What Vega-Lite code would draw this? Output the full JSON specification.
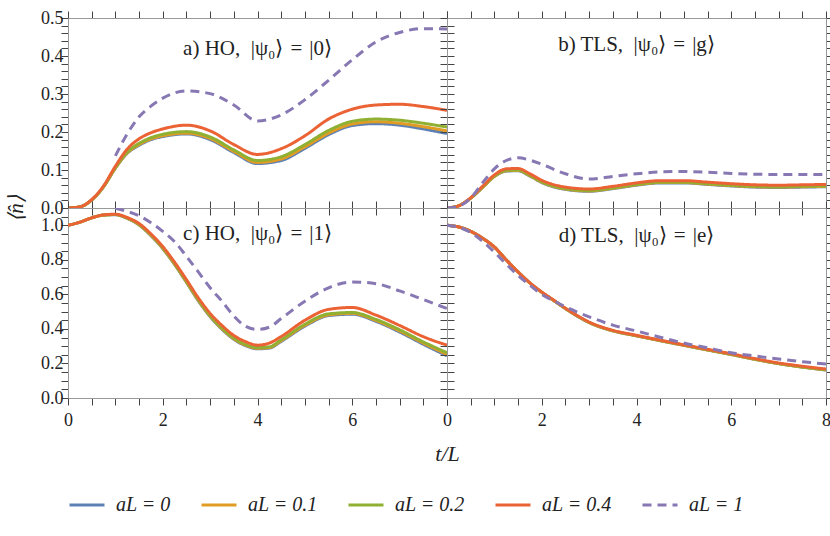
{
"$schema":"https://vega.github.io/schema/vega-lite/v6.json",
"background":"white",
"padding":{"left":4,"top":8,"right":2,"bottom":5},
"bounds":"flush",
"spacing":0,
"columns":2,
"config":{
 "font":"Liberation Serif",
 "view":{"stroke":"#999","strokeWidth":1},
 "axis":{"labelFont":"Liberation Serif","labelFontSize":18,"labelColor":"#222","ticks":true,"tickColor":"#444","tickWidth":1,"tickSize":7,"domainColor":"#999","grid":false,"labelFlush":false,"labelOverlap":false,"titleFont":"Liberation Serif","titleColor":"#222","titleFontWeight":"normal"},
 "legend":{"orient":"bottom","direction":"horizontal","title":null,"symbolType":"stroke","symbolStrokeWidth":3,"symbolSize":1225,"labelFont":"Liberation Serif","labelFontSize":20,"labelFontStyle":"italic","labelColor":"#222","columnPadding":24,"labelOffset":10,"offset":21},
 "text":{"font":"Liberation Serif"}
},
"datasets":{
"labels":[
{"p":"a","t":4,"v":0.418,"label":"a) HO,\u2002|ψ₀⟩\u2004=\u2004|0⟩"},
{"p":"b","t":4,"v":0.43,"label":"b) TLS,\u2002|ψ₀⟩\u2004=\u2004|g⟩"},
{"p":"c","t":4,"v":0.95,"label":"c) HO,\u2002|ψ₀⟩\u2004=\u2004|1⟩"},
{"p":"d","t":4,"v":0.94,"label":"d) TLS,\u2002|ψ₀⟩\u2004=\u2004|e⟩"}
],
"curves":[
{"p":"a","s":"aL = 0","t":0,"v":0},{"p":"a","s":"aL = 0","t":0.25,"v":0.003},{"p":"a","s":"aL = 0","t":0.5,"v":0.021},{"p":"a","s":"aL = 0","t":0.75,"v":0.056},{"p":"a","s":"aL = 0","t":1,"v":0.105},{"p":"a","s":"aL = 0","t":1.25,"v":0.144},{"p":"a","s":"aL = 0","t":1.5,"v":0.165},{"p":"a","s":"aL = 0","t":1.75,"v":0.18},{"p":"a","s":"aL = 0","t":2,"v":0.188},{"p":"a","s":"aL = 0","t":2.5,"v":0.195},{"p":"a","s":"aL = 0","t":3,"v":0.18},{"p":"a","s":"aL = 0","t":3.5,"v":0.146},{"p":"a","s":"aL = 0","t":4,"v":0.117},{"p":"a","s":"aL = 0","t":4.5,"v":0.125},{"p":"a","s":"aL = 0","t":5,"v":0.157},{"p":"a","s":"aL = 0","t":5.5,"v":0.193},{"p":"a","s":"aL = 0","t":6,"v":0.217},{"p":"a","s":"aL = 0","t":6.5,"v":0.222},{"p":"a","s":"aL = 0","t":7,"v":0.218},{"p":"a","s":"aL = 0","t":7.5,"v":0.208},{"p":"a","s":"aL = 0","t":8,"v":0.196},
{"p":"a","s":"aL = 0.1","t":0,"v":0},{"p":"a","s":"aL = 0.1","t":0.25,"v":0.003},{"p":"a","s":"aL = 0.1","t":0.5,"v":0.021},{"p":"a","s":"aL = 0.1","t":0.75,"v":0.056},{"p":"a","s":"aL = 0.1","t":1,"v":0.105},{"p":"a","s":"aL = 0.1","t":1.25,"v":0.145},{"p":"a","s":"aL = 0.1","t":1.5,"v":0.167},{"p":"a","s":"aL = 0.1","t":1.75,"v":0.182},{"p":"a","s":"aL = 0.1","t":2,"v":0.19},{"p":"a","s":"aL = 0.1","t":2.5,"v":0.197},{"p":"a","s":"aL = 0.1","t":3,"v":0.183},{"p":"a","s":"aL = 0.1","t":3.5,"v":0.149},{"p":"a","s":"aL = 0.1","t":4,"v":0.12},{"p":"a","s":"aL = 0.1","t":4.5,"v":0.129},{"p":"a","s":"aL = 0.1","t":5,"v":0.161},{"p":"a","s":"aL = 0.1","t":5.5,"v":0.197},{"p":"a","s":"aL = 0.1","t":6,"v":0.221},{"p":"a","s":"aL = 0.1","t":6.5,"v":0.227},{"p":"a","s":"aL = 0.1","t":7,"v":0.223},{"p":"a","s":"aL = 0.1","t":7.5,"v":0.214},{"p":"a","s":"aL = 0.1","t":8,"v":0.203},
{"p":"a","s":"aL = 0.2","t":0,"v":0},{"p":"a","s":"aL = 0.2","t":0.25,"v":0.003},{"p":"a","s":"aL = 0.2","t":0.5,"v":0.021},{"p":"a","s":"aL = 0.2","t":0.75,"v":0.056},{"p":"a","s":"aL = 0.2","t":1,"v":0.106},{"p":"a","s":"aL = 0.2","t":1.25,"v":0.147},{"p":"a","s":"aL = 0.2","t":1.5,"v":0.17},{"p":"a","s":"aL = 0.2","t":1.75,"v":0.185},{"p":"a","s":"aL = 0.2","t":2,"v":0.194},{"p":"a","s":"aL = 0.2","t":2.5,"v":0.201},{"p":"a","s":"aL = 0.2","t":3,"v":0.187},{"p":"a","s":"aL = 0.2","t":3.5,"v":0.153},{"p":"a","s":"aL = 0.2","t":4,"v":0.125},{"p":"a","s":"aL = 0.2","t":4.5,"v":0.135},{"p":"a","s":"aL = 0.2","t":5,"v":0.167},{"p":"a","s":"aL = 0.2","t":5.5,"v":0.204},{"p":"a","s":"aL = 0.2","t":6,"v":0.228},{"p":"a","s":"aL = 0.2","t":6.5,"v":0.234},{"p":"a","s":"aL = 0.2","t":7,"v":0.231},{"p":"a","s":"aL = 0.2","t":7.5,"v":0.223},{"p":"a","s":"aL = 0.2","t":8,"v":0.213},
{"p":"a","s":"aL = 0.4","t":0,"v":0},{"p":"a","s":"aL = 0.4","t":0.25,"v":0.003},{"p":"a","s":"aL = 0.4","t":0.5,"v":0.022},{"p":"a","s":"aL = 0.4","t":0.75,"v":0.058},{"p":"a","s":"aL = 0.4","t":1,"v":0.11},{"p":"a","s":"aL = 0.4","t":1.25,"v":0.155},{"p":"a","s":"aL = 0.4","t":1.5,"v":0.182},{"p":"a","s":"aL = 0.4","t":1.75,"v":0.198},{"p":"a","s":"aL = 0.4","t":2,"v":0.208},{"p":"a","s":"aL = 0.4","t":2.5,"v":0.218},{"p":"a","s":"aL = 0.4","t":3,"v":0.203},{"p":"a","s":"aL = 0.4","t":3.5,"v":0.167},{"p":"a","s":"aL = 0.4","t":4,"v":0.141},{"p":"a","s":"aL = 0.4","t":4.5,"v":0.156},{"p":"a","s":"aL = 0.4","t":5,"v":0.19},{"p":"a","s":"aL = 0.4","t":5.5,"v":0.234},{"p":"a","s":"aL = 0.4","t":6,"v":0.26},{"p":"a","s":"aL = 0.4","t":6.5,"v":0.271},{"p":"a","s":"aL = 0.4","t":7,"v":0.273},{"p":"a","s":"aL = 0.4","t":7.5,"v":0.267},{"p":"a","s":"aL = 0.4","t":8,"v":0.257},
{"p":"a","s":"aL = 1","t":1,"v":0.137},{"p":"a","s":"aL = 1","t":1.25,"v":0.195},{"p":"a","s":"aL = 1","t":1.5,"v":0.24},{"p":"a","s":"aL = 1","t":1.75,"v":0.268},{"p":"a","s":"aL = 1","t":2,"v":0.289},{"p":"a","s":"aL = 1","t":2.5,"v":0.308},{"p":"a","s":"aL = 1","t":3,"v":0.301},{"p":"a","s":"aL = 1","t":3.5,"v":0.271},{"p":"a","s":"aL = 1","t":4,"v":0.229},{"p":"a","s":"aL = 1","t":4.5,"v":0.245},{"p":"a","s":"aL = 1","t":5,"v":0.285},{"p":"a","s":"aL = 1","t":5.5,"v":0.336},{"p":"a","s":"aL = 1","t":6,"v":0.39},{"p":"a","s":"aL = 1","t":6.5,"v":0.437},{"p":"a","s":"aL = 1","t":7,"v":0.462},{"p":"a","s":"aL = 1","t":7.5,"v":0.472},{"p":"a","s":"aL = 1","t":8,"v":0.471},

{"p":"b","s":"aL = 0","t":0,"v":0},{"p":"b","s":"aL = 0","t":0.25,"v":0.006},{"p":"b","s":"aL = 0","t":0.5,"v":0.026},{"p":"b","s":"aL = 0","t":0.75,"v":0.054},{"p":"b","s":"aL = 0","t":1,"v":0.083},{"p":"b","s":"aL = 0","t":1.25,"v":0.097},{"p":"b","s":"aL = 0","t":1.5,"v":0.098},{"p":"b","s":"aL = 0","t":1.75,"v":0.084},{"p":"b","s":"aL = 0","t":2,"v":0.067},{"p":"b","s":"aL = 0","t":2.5,"v":0.049},{"p":"b","s":"aL = 0","t":3,"v":0.044},{"p":"b","s":"aL = 0","t":3.5,"v":0.051},{"p":"b","s":"aL = 0","t":4,"v":0.06},{"p":"b","s":"aL = 0","t":4.5,"v":0.066},{"p":"b","s":"aL = 0","t":5,"v":0.066},{"p":"b","s":"aL = 0","t":5.5,"v":0.062},{"p":"b","s":"aL = 0","t":6,"v":0.058},{"p":"b","s":"aL = 0","t":6.5,"v":0.055},{"p":"b","s":"aL = 0","t":7,"v":0.054},{"p":"b","s":"aL = 0","t":7.5,"v":0.055},{"p":"b","s":"aL = 0","t":8,"v":0.056},
{"p":"b","s":"aL = 0.1","t":0,"v":0},{"p":"b","s":"aL = 0.1","t":0.25,"v":0.006},{"p":"b","s":"aL = 0.1","t":0.5,"v":0.026},{"p":"b","s":"aL = 0.1","t":0.75,"v":0.054},{"p":"b","s":"aL = 0.1","t":1,"v":0.083},{"p":"b","s":"aL = 0.1","t":1.25,"v":0.098},{"p":"b","s":"aL = 0.1","t":1.5,"v":0.099},{"p":"b","s":"aL = 0.1","t":1.75,"v":0.085},{"p":"b","s":"aL = 0.1","t":2,"v":0.068},{"p":"b","s":"aL = 0.1","t":2.5,"v":0.05},{"p":"b","s":"aL = 0.1","t":3,"v":0.045},{"p":"b","s":"aL = 0.1","t":3.5,"v":0.052},{"p":"b","s":"aL = 0.1","t":4,"v":0.061},{"p":"b","s":"aL = 0.1","t":4.5,"v":0.067},{"p":"b","s":"aL = 0.1","t":5,"v":0.067},{"p":"b","s":"aL = 0.1","t":5.5,"v":0.063},{"p":"b","s":"aL = 0.1","t":6,"v":0.059},{"p":"b","s":"aL = 0.1","t":6.5,"v":0.056},{"p":"b","s":"aL = 0.1","t":7,"v":0.055},{"p":"b","s":"aL = 0.1","t":7.5,"v":0.056},{"p":"b","s":"aL = 0.1","t":8,"v":0.057},
{"p":"b","s":"aL = 0.2","t":0,"v":0},{"p":"b","s":"aL = 0.2","t":0.25,"v":0.006},{"p":"b","s":"aL = 0.2","t":0.5,"v":0.026},{"p":"b","s":"aL = 0.2","t":0.75,"v":0.055},{"p":"b","s":"aL = 0.2","t":1,"v":0.084},{"p":"b","s":"aL = 0.2","t":1.25,"v":0.099},{"p":"b","s":"aL = 0.2","t":1.5,"v":0.1},{"p":"b","s":"aL = 0.2","t":1.75,"v":0.086},{"p":"b","s":"aL = 0.2","t":2,"v":0.069},{"p":"b","s":"aL = 0.2","t":2.5,"v":0.051},{"p":"b","s":"aL = 0.2","t":3,"v":0.046},{"p":"b","s":"aL = 0.2","t":3.5,"v":0.053},{"p":"b","s":"aL = 0.2","t":4,"v":0.062},{"p":"b","s":"aL = 0.2","t":4.5,"v":0.068},{"p":"b","s":"aL = 0.2","t":5,"v":0.068},{"p":"b","s":"aL = 0.2","t":5.5,"v":0.064},{"p":"b","s":"aL = 0.2","t":6,"v":0.06},{"p":"b","s":"aL = 0.2","t":6.5,"v":0.057},{"p":"b","s":"aL = 0.2","t":7,"v":0.056},{"p":"b","s":"aL = 0.2","t":7.5,"v":0.057},{"p":"b","s":"aL = 0.2","t":8,"v":0.058},
{"p":"b","s":"aL = 0.4","t":0,"v":0},{"p":"b","s":"aL = 0.4","t":0.25,"v":0.006},{"p":"b","s":"aL = 0.4","t":0.5,"v":0.027},{"p":"b","s":"aL = 0.4","t":0.75,"v":0.057},{"p":"b","s":"aL = 0.4","t":1,"v":0.087},{"p":"b","s":"aL = 0.4","t":1.25,"v":0.103},{"p":"b","s":"aL = 0.4","t":1.5,"v":0.104},{"p":"b","s":"aL = 0.4","t":1.75,"v":0.09},{"p":"b","s":"aL = 0.4","t":2,"v":0.073},{"p":"b","s":"aL = 0.4","t":2.5,"v":0.055},{"p":"b","s":"aL = 0.4","t":3,"v":0.05},{"p":"b","s":"aL = 0.4","t":3.5,"v":0.057},{"p":"b","s":"aL = 0.4","t":4,"v":0.066},{"p":"b","s":"aL = 0.4","t":4.5,"v":0.072},{"p":"b","s":"aL = 0.4","t":5,"v":0.072},{"p":"b","s":"aL = 0.4","t":5.5,"v":0.068},{"p":"b","s":"aL = 0.4","t":6,"v":0.064},{"p":"b","s":"aL = 0.4","t":6.5,"v":0.061},{"p":"b","s":"aL = 0.4","t":7,"v":0.06},{"p":"b","s":"aL = 0.4","t":7.5,"v":0.061},{"p":"b","s":"aL = 0.4","t":8,"v":0.062},
{"p":"b","s":"aL = 1","t":0,"v":0},{"p":"b","s":"aL = 1","t":0.25,"v":0.005},{"p":"b","s":"aL = 1","t":0.5,"v":0.026},{"p":"b","s":"aL = 1","t":0.75,"v":0.066},{"p":"b","s":"aL = 1","t":1,"v":0.103},{"p":"b","s":"aL = 1","t":1.25,"v":0.125},{"p":"b","s":"aL = 1","t":1.5,"v":0.132},{"p":"b","s":"aL = 1","t":1.75,"v":0.126},{"p":"b","s":"aL = 1","t":2,"v":0.115},{"p":"b","s":"aL = 1","t":2.5,"v":0.09},{"p":"b","s":"aL = 1","t":3,"v":0.076},{"p":"b","s":"aL = 1","t":3.5,"v":0.083},{"p":"b","s":"aL = 1","t":4,"v":0.09},{"p":"b","s":"aL = 1","t":4.5,"v":0.095},{"p":"b","s":"aL = 1","t":5,"v":0.096},{"p":"b","s":"aL = 1","t":5.5,"v":0.094},{"p":"b","s":"aL = 1","t":6,"v":0.091},{"p":"b","s":"aL = 1","t":6.5,"v":0.089},{"p":"b","s":"aL = 1","t":7,"v":0.088},{"p":"b","s":"aL = 1","t":7.5,"v":0.088},{"p":"b","s":"aL = 1","t":8,"v":0.088},

{"p":"c","s":"aL = 0","t":0,"v":1},{"p":"c","s":"aL = 0","t":0.25,"v":1.018},{"p":"c","s":"aL = 0","t":0.5,"v":1.043},{"p":"c","s":"aL = 0","t":0.75,"v":1.059},{"p":"c","s":"aL = 0","t":1,"v":1.061},{"p":"c","s":"aL = 0","t":1.25,"v":1.04},{"p":"c","s":"aL = 0","t":1.5,"v":1.002},{"p":"c","s":"aL = 0","t":1.75,"v":0.94},{"p":"c","s":"aL = 0","t":2,"v":0.865},{"p":"c","s":"aL = 0","t":2.25,"v":0.773},{"p":"c","s":"aL = 0","t":2.5,"v":0.67},{"p":"c","s":"aL = 0","t":2.75,"v":0.563},{"p":"c","s":"aL = 0","t":3,"v":0.471},{"p":"c","s":"aL = 0","t":3.25,"v":0.398},{"p":"c","s":"aL = 0","t":3.5,"v":0.34},{"p":"c","s":"aL = 0","t":3.75,"v":0.303},{"p":"c","s":"aL = 0","t":4,"v":0.285},{"p":"c","s":"aL = 0","t":4.25,"v":0.289},{"p":"c","s":"aL = 0","t":4.5,"v":0.328},{"p":"c","s":"aL = 0","t":5,"v":0.416},{"p":"c","s":"aL = 0","t":5.5,"v":0.477},{"p":"c","s":"aL = 0","t":6,"v":0.485},{"p":"c","s":"aL = 0","t":6.5,"v":0.444},{"p":"c","s":"aL = 0","t":7,"v":0.382},{"p":"c","s":"aL = 0","t":7.5,"v":0.311},{"p":"c","s":"aL = 0","t":8,"v":0.244},
{"p":"c","s":"aL = 0.1","t":0,"v":1},{"p":"c","s":"aL = 0.1","t":0.25,"v":1.018},{"p":"c","s":"aL = 0.1","t":0.5,"v":1.043},{"p":"c","s":"aL = 0.1","t":0.75,"v":1.059},{"p":"c","s":"aL = 0.1","t":1,"v":1.062},{"p":"c","s":"aL = 0.1","t":1.25,"v":1.041},{"p":"c","s":"aL = 0.1","t":1.5,"v":1.003},{"p":"c","s":"aL = 0.1","t":1.75,"v":0.942},{"p":"c","s":"aL = 0.1","t":2,"v":0.867},{"p":"c","s":"aL = 0.1","t":2.25,"v":0.775},{"p":"c","s":"aL = 0.1","t":2.5,"v":0.672},{"p":"c","s":"aL = 0.1","t":2.75,"v":0.566},{"p":"c","s":"aL = 0.1","t":3,"v":0.474},{"p":"c","s":"aL = 0.1","t":3.25,"v":0.401},{"p":"c","s":"aL = 0.1","t":3.5,"v":0.343},{"p":"c","s":"aL = 0.1","t":3.75,"v":0.306},{"p":"c","s":"aL = 0.1","t":4,"v":0.288},{"p":"c","s":"aL = 0.1","t":4.25,"v":0.292},{"p":"c","s":"aL = 0.1","t":4.5,"v":0.332},{"p":"c","s":"aL = 0.1","t":5,"v":0.421},{"p":"c","s":"aL = 0.1","t":5.5,"v":0.481},{"p":"c","s":"aL = 0.1","t":6,"v":0.49},{"p":"c","s":"aL = 0.1","t":6.5,"v":0.449},{"p":"c","s":"aL = 0.1","t":7,"v":0.388},{"p":"c","s":"aL = 0.1","t":7.5,"v":0.318},{"p":"c","s":"aL = 0.1","t":8,"v":0.252},
{"p":"c","s":"aL = 0.2","t":0,"v":1},{"p":"c","s":"aL = 0.2","t":0.25,"v":1.018},{"p":"c","s":"aL = 0.2","t":0.5,"v":1.043},{"p":"c","s":"aL = 0.2","t":0.75,"v":1.059},{"p":"c","s":"aL = 0.2","t":1,"v":1.062},{"p":"c","s":"aL = 0.2","t":1.25,"v":1.042},{"p":"c","s":"aL = 0.2","t":1.5,"v":1.005},{"p":"c","s":"aL = 0.2","t":1.75,"v":0.944},{"p":"c","s":"aL = 0.2","t":2,"v":0.87},{"p":"c","s":"aL = 0.2","t":2.25,"v":0.778},{"p":"c","s":"aL = 0.2","t":2.5,"v":0.675},{"p":"c","s":"aL = 0.2","t":2.75,"v":0.57},{"p":"c","s":"aL = 0.2","t":3,"v":0.478},{"p":"c","s":"aL = 0.2","t":3.25,"v":0.405},{"p":"c","s":"aL = 0.2","t":3.5,"v":0.347},{"p":"c","s":"aL = 0.2","t":3.75,"v":0.31},{"p":"c","s":"aL = 0.2","t":4,"v":0.292},{"p":"c","s":"aL = 0.2","t":4.25,"v":0.296},{"p":"c","s":"aL = 0.2","t":4.5,"v":0.337},{"p":"c","s":"aL = 0.2","t":5,"v":0.427},{"p":"c","s":"aL = 0.2","t":5.5,"v":0.487},{"p":"c","s":"aL = 0.2","t":6,"v":0.495},{"p":"c","s":"aL = 0.2","t":6.5,"v":0.455},{"p":"c","s":"aL = 0.2","t":7,"v":0.395},{"p":"c","s":"aL = 0.2","t":7.5,"v":0.325},{"p":"c","s":"aL = 0.2","t":8,"v":0.262},
{"p":"c","s":"aL = 0.4","t":0,"v":1},{"p":"c","s":"aL = 0.4","t":0.25,"v":1.018},{"p":"c","s":"aL = 0.4","t":0.5,"v":1.043},{"p":"c","s":"aL = 0.4","t":0.75,"v":1.06},{"p":"c","s":"aL = 0.4","t":1,"v":1.064},{"p":"c","s":"aL = 0.4","t":1.25,"v":1.045},{"p":"c","s":"aL = 0.4","t":1.5,"v":1.01},{"p":"c","s":"aL = 0.4","t":1.75,"v":0.95},{"p":"c","s":"aL = 0.4","t":2,"v":0.877},{"p":"c","s":"aL = 0.4","t":2.25,"v":0.786},{"p":"c","s":"aL = 0.4","t":2.5,"v":0.685},{"p":"c","s":"aL = 0.4","t":2.75,"v":0.58},{"p":"c","s":"aL = 0.4","t":3,"v":0.49},{"p":"c","s":"aL = 0.4","t":3.25,"v":0.42},{"p":"c","s":"aL = 0.4","t":3.5,"v":0.362},{"p":"c","s":"aL = 0.4","t":3.75,"v":0.326},{"p":"c","s":"aL = 0.4","t":4,"v":0.306},{"p":"c","s":"aL = 0.4","t":4.25,"v":0.318},{"p":"c","s":"aL = 0.4","t":4.5,"v":0.356},{"p":"c","s":"aL = 0.4","t":5,"v":0.45},{"p":"c","s":"aL = 0.4","t":5.5,"v":0.513},{"p":"c","s":"aL = 0.4","t":6,"v":0.524},{"p":"c","s":"aL = 0.4","t":6.5,"v":0.48},{"p":"c","s":"aL = 0.4","t":7,"v":0.42},{"p":"c","s":"aL = 0.4","t":7.5,"v":0.355},{"p":"c","s":"aL = 0.4","t":8,"v":0.306},
{"p":"c","s":"aL = 1","t":1,"v":1.098},{"p":"c","s":"aL = 1","t":1.25,"v":1.08},{"p":"c","s":"aL = 1","t":1.5,"v":1.055},{"p":"c","s":"aL = 1","t":1.75,"v":1.015},{"p":"c","s":"aL = 1","t":2,"v":0.965},{"p":"c","s":"aL = 1","t":2.25,"v":0.905},{"p":"c","s":"aL = 1","t":2.5,"v":0.82},{"p":"c","s":"aL = 1","t":2.75,"v":0.73},{"p":"c","s":"aL = 1","t":3,"v":0.638},{"p":"c","s":"aL = 1","t":3.25,"v":0.56},{"p":"c","s":"aL = 1","t":3.5,"v":0.475},{"p":"c","s":"aL = 1","t":3.75,"v":0.415},{"p":"c","s":"aL = 1","t":4,"v":0.397},{"p":"c","s":"aL = 1","t":4.25,"v":0.41},{"p":"c","s":"aL = 1","t":4.5,"v":0.46},{"p":"c","s":"aL = 1","t":5,"v":0.56},{"p":"c","s":"aL = 1","t":5.5,"v":0.638},{"p":"c","s":"aL = 1","t":6,"v":0.672},{"p":"c","s":"aL = 1","t":6.5,"v":0.662},{"p":"c","s":"aL = 1","t":7,"v":0.62},{"p":"c","s":"aL = 1","t":7.5,"v":0.57},{"p":"c","s":"aL = 1","t":8,"v":0.518},

{"p":"d","s":"aL = 0","t":0,"v":1},{"p":"d","s":"aL = 0","t":0.25,"v":0.99},{"p":"d","s":"aL = 0","t":0.5,"v":0.965},{"p":"d","s":"aL = 0","t":0.75,"v":0.925},{"p":"d","s":"aL = 0","t":1,"v":0.874},{"p":"d","s":"aL = 0","t":1.25,"v":0.8},{"p":"d","s":"aL = 0","t":1.5,"v":0.73},{"p":"d","s":"aL = 0","t":1.75,"v":0.666},{"p":"d","s":"aL = 0","t":2,"v":0.612},{"p":"d","s":"aL = 0","t":2.25,"v":0.565},{"p":"d","s":"aL = 0","t":2.5,"v":0.518},{"p":"d","s":"aL = 0","t":2.75,"v":0.474},{"p":"d","s":"aL = 0","t":3,"v":0.437},{"p":"d","s":"aL = 0","t":3.5,"v":0.389},{"p":"d","s":"aL = 0","t":4,"v":0.36},{"p":"d","s":"aL = 0","t":4.5,"v":0.332},{"p":"d","s":"aL = 0","t":5,"v":0.305},{"p":"d","s":"aL = 0","t":5.5,"v":0.278},{"p":"d","s":"aL = 0","t":6,"v":0.252},{"p":"d","s":"aL = 0","t":6.5,"v":0.224},{"p":"d","s":"aL = 0","t":7,"v":0.199},{"p":"d","s":"aL = 0","t":7.5,"v":0.179},{"p":"d","s":"aL = 0","t":8,"v":0.162},
{"p":"d","s":"aL = 0.1","t":0,"v":1},{"p":"d","s":"aL = 0.1","t":0.25,"v":0.99},{"p":"d","s":"aL = 0.1","t":0.5,"v":0.965},{"p":"d","s":"aL = 0.1","t":0.75,"v":0.925},{"p":"d","s":"aL = 0.1","t":1,"v":0.874},{"p":"d","s":"aL = 0.1","t":1.25,"v":0.8},{"p":"d","s":"aL = 0.1","t":1.5,"v":0.73},{"p":"d","s":"aL = 0.1","t":1.75,"v":0.666},{"p":"d","s":"aL = 0.1","t":2,"v":0.612},{"p":"d","s":"aL = 0.1","t":2.25,"v":0.565},{"p":"d","s":"aL = 0.1","t":2.5,"v":0.518},{"p":"d","s":"aL = 0.1","t":2.75,"v":0.475},{"p":"d","s":"aL = 0.1","t":3,"v":0.437},{"p":"d","s":"aL = 0.1","t":3.5,"v":0.389},{"p":"d","s":"aL = 0.1","t":4,"v":0.36},{"p":"d","s":"aL = 0.1","t":4.5,"v":0.332},{"p":"d","s":"aL = 0.1","t":5,"v":0.305},{"p":"d","s":"aL = 0.1","t":5.5,"v":0.278},{"p":"d","s":"aL = 0.1","t":6,"v":0.252},{"p":"d","s":"aL = 0.1","t":6.5,"v":0.224},{"p":"d","s":"aL = 0.1","t":7,"v":0.199},{"p":"d","s":"aL = 0.1","t":7.5,"v":0.179},{"p":"d","s":"aL = 0.1","t":8,"v":0.163},
{"p":"d","s":"aL = 0.2","t":0,"v":1},{"p":"d","s":"aL = 0.2","t":0.25,"v":0.99},{"p":"d","s":"aL = 0.2","t":0.5,"v":0.965},{"p":"d","s":"aL = 0.2","t":0.75,"v":0.925},{"p":"d","s":"aL = 0.2","t":1,"v":0.874},{"p":"d","s":"aL = 0.2","t":1.25,"v":0.8},{"p":"d","s":"aL = 0.2","t":1.5,"v":0.73},{"p":"d","s":"aL = 0.2","t":1.75,"v":0.666},{"p":"d","s":"aL = 0.2","t":2,"v":0.612},{"p":"d","s":"aL = 0.2","t":2.25,"v":0.565},{"p":"d","s":"aL = 0.2","t":2.5,"v":0.518},{"p":"d","s":"aL = 0.2","t":2.75,"v":0.475},{"p":"d","s":"aL = 0.2","t":3,"v":0.438},{"p":"d","s":"aL = 0.2","t":3.5,"v":0.39},{"p":"d","s":"aL = 0.2","t":4,"v":0.361},{"p":"d","s":"aL = 0.2","t":4.5,"v":0.333},{"p":"d","s":"aL = 0.2","t":5,"v":0.306},{"p":"d","s":"aL = 0.2","t":5.5,"v":0.279},{"p":"d","s":"aL = 0.2","t":6,"v":0.253},{"p":"d","s":"aL = 0.2","t":6.5,"v":0.225},{"p":"d","s":"aL = 0.2","t":7,"v":0.2},{"p":"d","s":"aL = 0.2","t":7.5,"v":0.18},{"p":"d","s":"aL = 0.2","t":8,"v":0.164},
{"p":"d","s":"aL = 0.4","t":0,"v":1},{"p":"d","s":"aL = 0.4","t":0.25,"v":0.99},{"p":"d","s":"aL = 0.4","t":0.5,"v":0.965},{"p":"d","s":"aL = 0.4","t":0.75,"v":0.925},{"p":"d","s":"aL = 0.4","t":1,"v":0.874},{"p":"d","s":"aL = 0.4","t":1.25,"v":0.8},{"p":"d","s":"aL = 0.4","t":1.5,"v":0.73},{"p":"d","s":"aL = 0.4","t":1.75,"v":0.667},{"p":"d","s":"aL = 0.4","t":2,"v":0.614},{"p":"d","s":"aL = 0.4","t":2.25,"v":0.567},{"p":"d","s":"aL = 0.4","t":2.5,"v":0.52},{"p":"d","s":"aL = 0.4","t":2.75,"v":0.477},{"p":"d","s":"aL = 0.4","t":3,"v":0.44},{"p":"d","s":"aL = 0.4","t":3.5,"v":0.392},{"p":"d","s":"aL = 0.4","t":4,"v":0.363},{"p":"d","s":"aL = 0.4","t":4.5,"v":0.335},{"p":"d","s":"aL = 0.4","t":5,"v":0.308},{"p":"d","s":"aL = 0.4","t":5.5,"v":0.282},{"p":"d","s":"aL = 0.4","t":6,"v":0.256},{"p":"d","s":"aL = 0.4","t":6.5,"v":0.228},{"p":"d","s":"aL = 0.4","t":7,"v":0.203},{"p":"d","s":"aL = 0.4","t":7.5,"v":0.184},{"p":"d","s":"aL = 0.4","t":8,"v":0.168},
{"p":"d","s":"aL = 1","t":0,"v":1},{"p":"d","s":"aL = 1","t":0.25,"v":0.988},{"p":"d","s":"aL = 1","t":0.5,"v":0.958},{"p":"d","s":"aL = 1","t":0.75,"v":0.908},{"p":"d","s":"aL = 1","t":1,"v":0.845},{"p":"d","s":"aL = 1","t":1.25,"v":0.775},{"p":"d","s":"aL = 1","t":1.5,"v":0.71},{"p":"d","s":"aL = 1","t":1.75,"v":0.652},{"p":"d","s":"aL = 1","t":2,"v":0.6},{"p":"d","s":"aL = 1","t":2.25,"v":0.563},{"p":"d","s":"aL = 1","t":2.5,"v":0.528},{"p":"d","s":"aL = 1","t":2.75,"v":0.497},{"p":"d","s":"aL = 1","t":3,"v":0.47},{"p":"d","s":"aL = 1","t":3.5,"v":0.422},{"p":"d","s":"aL = 1","t":4,"v":0.388},{"p":"d","s":"aL = 1","t":4.5,"v":0.352},{"p":"d","s":"aL = 1","t":5,"v":0.318},{"p":"d","s":"aL = 1","t":5.5,"v":0.29},{"p":"d","s":"aL = 1","t":6,"v":0.262},{"p":"d","s":"aL = 1","t":6.5,"v":0.243},{"p":"d","s":"aL = 1","t":7,"v":0.226},{"p":"d","s":"aL = 1","t":7.5,"v":0.21},{"p":"d","s":"aL = 1","t":8,"v":0.197}
]
},
"concat":[
  {"width":379,"height":190,
   "layer":[
    {"data":{"name":"curves"},"transform":[{"filter":"datum.p==='a'"}],
     "mark":{"type":"line","strokeWidth":3,"interpolate":"monotone","clip":true},
     "encoding":{
      "x":{"field":"t","type":"quantitative","scale":{"domain":[0,8],"nice":false},"axis":{"orient":"bottom","title":null,"values":[0,0.5,1,1.5,2,2.5,3,3.5,4,4.5,5,5.5,6,6.5,7,7.5,8],"labels":false,"encode":{"ticks":{"update":{"y2":{"signal":"datum.value % 2 === 0 ? -7 : -4"}}}}}},
      "y":{"field":"v","type":"quantitative","scale":{"domain":[0,0.5],"nice":false,"zero":false},"axis":{"orient":"left","title":"⟨n̂⟩","titleFontSize":21,"titleFontStyle":"italic","titleAngle":-90,"titleX":-52,"titleY":190,"titleAlign":"center","titleBaseline":"middle","values":[0,0.02,0.04,0.06,0.08,0.1,0.12,0.14,0.16,0.18,0.2,0.22,0.24,0.26,0.28,0.3,0.32,0.34,0.36,0.38,0.4,0.42,0.44,0.46,0.48,0.5],"labelExpr":"abs(datum.value*10 - round(datum.value*10)) < 0.001 ? format(datum.value, '.1f') : ''","labelPadding":-2,"encode":{"ticks":{"update":{"x2":{"signal":"abs(datum.value*10 - round(datum.value*10)) < 0.001 ? 7 : 4"}}}}}},
      "color":{"field":"s","type":"nominal","scale":{"domain":["aL = 0","aL = 0.1","aL = 0.2","aL = 0.4","aL = 1"],"range":["#5E81B5","#E19C24","#8FB032","#EB6235","#8778B3"]},"legend":{}},
      "strokeDash":{"field":"s","type":"nominal","scale":{"domain":["aL = 0","aL = 0.1","aL = 0.2","aL = 0.4","aL = 1"],"range":[[1,0],[1,0],[1,0],[1,0],[9,6]]},"legend":{}}
     }},
    {"data":{"name":"labels"},"transform":[{"filter":"datum.p==='a'"}],
     "mark":{"type":"text","font":"Liberation Serif","fontSize":21,"color":"#222"},
     "encoding":{
      "x":{"field":"t","type":"quantitative","scale":{"domain":[0,8],"nice":false},"axis":{"orient":"top","title":null,"values":[0,0.5,1,1.5,2,2.5,3,3.5,4,4.5,5,5.5,6,6.5,7,7.5,8],"labels":false,"encode":{"ticks":{"update":{"y2":{"signal":"datum.value % 2 === 0 ? 7 : 4"}}}}}},
      "y":{"field":"v","type":"quantitative","scale":{"domain":[0,0.5],"nice":false,"zero":false},"axis":{"orient":"right","title":null,"values":[0,0.02,0.04,0.06,0.08,0.1,0.12,0.14,0.16,0.18,0.2,0.22,0.24,0.26,0.28,0.3,0.32,0.34,0.36,0.38,0.4,0.42,0.44,0.46,0.48,0.5],"labels":false,"encode":{"ticks":{"update":{"x2":{"signal":"abs(datum.value*10 - round(datum.value*10)) < 0.001 ? -7 : -4"}}}}}},
      "text":{"field":"label"}
     }}
   ],
   "resolve":{"axis":{"x":"independent","y":"independent"}}
  },
  {"width":379,"height":190,
   "layer":[
    {"data":{"name":"curves"},"transform":[{"filter":"datum.p==='b'"}],
     "mark":{"type":"line","strokeWidth":3,"interpolate":"monotone","clip":true},
     "encoding":{
      "x":{"field":"t","type":"quantitative","scale":{"domain":[0,8],"nice":false},"axis":{"orient":"bottom","title":null,"values":[0,0.5,1,1.5,2,2.5,3,3.5,4,4.5,5,5.5,6,6.5,7,7.5,8],"labels":false,"encode":{"ticks":{"update":{"y2":{"signal":"datum.value % 2 === 0 ? -7 : -4"}}}}}},
      "y":{"field":"v","type":"quantitative","scale":{"domain":[0,0.5],"nice":false,"zero":false},"axis":{"orient":"left","title":null,"values":[0,0.02,0.04,0.06,0.08,0.1,0.12,0.14,0.16,0.18,0.2,0.22,0.24,0.26,0.28,0.3,0.32,0.34,0.36,0.38,0.4,0.42,0.44,0.46,0.48,0.5],"labels":false,"encode":{"ticks":{"update":{"x2":{"signal":"abs(datum.value*10 - round(datum.value*10)) < 0.001 ? 7 : 4"}}}}}},
      "color":{"field":"s","type":"nominal","scale":{"domain":["aL = 0","aL = 0.1","aL = 0.2","aL = 0.4","aL = 1"],"range":["#5E81B5","#E19C24","#8FB032","#EB6235","#8778B3"]},"legend":{}},
      "strokeDash":{"field":"s","type":"nominal","scale":{"domain":["aL = 0","aL = 0.1","aL = 0.2","aL = 0.4","aL = 1"],"range":[[1,0],[1,0],[1,0],[1,0],[9,6]]},"legend":{}}
     }},
    {"data":{"name":"labels"},"transform":[{"filter":"datum.p==='b'"}],
     "mark":{"type":"text","font":"Liberation Serif","fontSize":21,"color":"#222"},
     "encoding":{
      "x":{"field":"t","type":"quantitative","scale":{"domain":[0,8],"nice":false},"axis":{"orient":"top","title":null,"values":[0,0.5,1,1.5,2,2.5,3,3.5,4,4.5,5,5.5,6,6.5,7,7.5,8],"labels":false,"encode":{"ticks":{"update":{"y2":{"signal":"datum.value % 2 === 0 ? 7 : 4"}}}}}},
      "y":{"field":"v","type":"quantitative","scale":{"domain":[0,0.5],"nice":false,"zero":false},"axis":{"orient":"right","title":null,"values":[0,0.02,0.04,0.06,0.08,0.1,0.12,0.14,0.16,0.18,0.2,0.22,0.24,0.26,0.28,0.3,0.32,0.34,0.36,0.38,0.4,0.42,0.44,0.46,0.48,0.5],"labels":false,"encode":{"ticks":{"update":{"x2":{"signal":"abs(datum.value*10 - round(datum.value*10)) < 0.001 ? -7 : -4"}}}}}},
      "text":{"field":"label"}
     }}
   ],
   "resolve":{"axis":{"x":"independent","y":"independent"}}
  },
  {"width":379,"height":190,
   "layer":[
    {"data":{"name":"curves"},"transform":[{"filter":"datum.p==='c'"}],
     "mark":{"type":"line","strokeWidth":3,"interpolate":"monotone","clip":true},
     "encoding":{
      "x":{"field":"t","type":"quantitative","scale":{"domain":[0,8],"nice":false},"axis":{"orient":"bottom","title":"t/L","titleFontSize":22,"titleFontStyle":"italic","titleX":379,"titleY":55,"titleAlign":"center","titleBaseline":"middle","values":[0,0.5,1,1.5,2,2.5,3,3.5,4,4.5,5,5.5,6,6.5,7,7.5,8],"labelExpr":"datum.value % 2 === 0 && datum.value < 8 ? format(datum.value, 'd') : ''","labelPadding":6,"encode":{"ticks":{"update":{"y2":{"signal":"datum.value % 2 === 0 ? -7 : -4"}}}}}},
      "y":{"field":"v","type":"quantitative","scale":{"domain":[0,1.1],"nice":false,"zero":false},"axis":{"orient":"left","title":null,"values":[0,0.05,0.1,0.15,0.2,0.25,0.3,0.35,0.4,0.45,0.5,0.55,0.6,0.65,0.7,0.75,0.8,0.85,0.9,0.95,1,1.05,1.1],"labelExpr":"abs(datum.value*5 - round(datum.value*5)) < 0.001 ? format(datum.value, '.1f') : ''","labelPadding":-2,"encode":{"ticks":{"update":{"x2":{"signal":"abs(datum.value*5 - round(datum.value*5)) < 0.001 ? 7 : 4"}}}}}},
      "color":{"field":"s","type":"nominal","scale":{"domain":["aL = 0","aL = 0.1","aL = 0.2","aL = 0.4","aL = 1"],"range":["#5E81B5","#E19C24","#8FB032","#EB6235","#8778B3"]},"legend":{}},
      "strokeDash":{"field":"s","type":"nominal","scale":{"domain":["aL = 0","aL = 0.1","aL = 0.2","aL = 0.4","aL = 1"],"range":[[1,0],[1,0],[1,0],[1,0],[9,6]]},"legend":{}}
     }},
    {"data":{"name":"labels"},"transform":[{"filter":"datum.p==='c'"}],
     "mark":{"type":"text","font":"Liberation Serif","fontSize":21,"color":"#222"},
     "encoding":{
      "x":{"field":"t","type":"quantitative","scale":{"domain":[0,8],"nice":false},"axis":{"orient":"top","title":null,"values":[0,0.5,1,1.5,2,2.5,3,3.5,4,4.5,5,5.5,6,6.5,7,7.5,8],"labels":false,"encode":{"ticks":{"update":{"y2":{"signal":"datum.value % 2 === 0 ? 7 : 4"}}}}}},
      "y":{"field":"v","type":"quantitative","scale":{"domain":[0,1.1],"nice":false,"zero":false},"axis":{"orient":"right","title":null,"values":[0,0.05,0.1,0.15,0.2,0.25,0.3,0.35,0.4,0.45,0.5,0.55,0.6,0.65,0.7,0.75,0.8,0.85,0.9,0.95,1,1.05,1.1],"labels":false,"encode":{"ticks":{"update":{"x2":{"signal":"abs(datum.value*5 - round(datum.value*5)) < 0.001 ? -7 : -4"}}}}}},
      "text":{"field":"label"}
     }}
   ],
   "resolve":{"axis":{"x":"independent","y":"independent"}}
  },
  {"width":379,"height":190,
   "layer":[
    {"data":{"name":"curves"},"transform":[{"filter":"datum.p==='d'"}],
     "mark":{"type":"line","strokeWidth":3,"interpolate":"monotone","clip":true},
     "encoding":{
      "x":{"field":"t","type":"quantitative","scale":{"domain":[0,8],"nice":false},"axis":{"orient":"bottom","title":null,"values":[0,0.5,1,1.5,2,2.5,3,3.5,4,4.5,5,5.5,6,6.5,7,7.5,8],"labelExpr":"datum.value % 2 === 0 ? format(datum.value, 'd') : ''","labelPadding":6,"encode":{"ticks":{"update":{"y2":{"signal":"datum.value % 2 === 0 ? -7 : -4"}}}}}},
      "y":{"field":"v","type":"quantitative","scale":{"domain":[0,1.1],"nice":false,"zero":false},"axis":{"orient":"left","title":null,"values":[0,0.05,0.1,0.15,0.2,0.25,0.3,0.35,0.4,0.45,0.5,0.55,0.6,0.65,0.7,0.75,0.8,0.85,0.9,0.95,1,1.05,1.1],"labels":false,"encode":{"ticks":{"update":{"x2":{"signal":"abs(datum.value*5 - round(datum.value*5)) < 0.001 ? 7 : 4"}}}}}},
      "color":{"field":"s","type":"nominal","scale":{"domain":["aL = 0","aL = 0.1","aL = 0.2","aL = 0.4","aL = 1"],"range":["#5E81B5","#E19C24","#8FB032","#EB6235","#8778B3"]},"legend":{}},
      "strokeDash":{"field":"s","type":"nominal","scale":{"domain":["aL = 0","aL = 0.1","aL = 0.2","aL = 0.4","aL = 1"],"range":[[1,0],[1,0],[1,0],[1,0],[9,6]]},"legend":{}}
     }},
    {"data":{"name":"labels"},"transform":[{"filter":"datum.p==='d'"}],
     "mark":{"type":"text","font":"Liberation Serif","fontSize":21,"color":"#222"},
     "encoding":{
      "x":{"field":"t","type":"quantitative","scale":{"domain":[0,8],"nice":false},"axis":{"orient":"top","title":null,"values":[0,0.5,1,1.5,2,2.5,3,3.5,4,4.5,5,5.5,6,6.5,7,7.5,8],"labels":false,"encode":{"ticks":{"update":{"y2":{"signal":"datum.value % 2 === 0 ? 7 : 4"}}}}}},
      "y":{"field":"v","type":"quantitative","scale":{"domain":[0,1.1],"nice":false,"zero":false},"axis":{"orient":"right","title":null,"values":[0,0.05,0.1,0.15,0.2,0.25,0.3,0.35,0.4,0.45,0.5,0.55,0.6,0.65,0.7,0.75,0.8,0.85,0.9,0.95,1,1.05,1.1],"labels":false,"encode":{"ticks":{"update":{"x2":{"signal":"abs(datum.value*5 - round(datum.value*5)) < 0.001 ? -7 : -4"}}}}}},
      "text":{"field":"label"}
     }}
   ],
   "resolve":{"axis":{"x":"independent","y":"independent"}}
  }
],
"resolve":{"scale":{"x":"independent","y":"independent"}}
}
